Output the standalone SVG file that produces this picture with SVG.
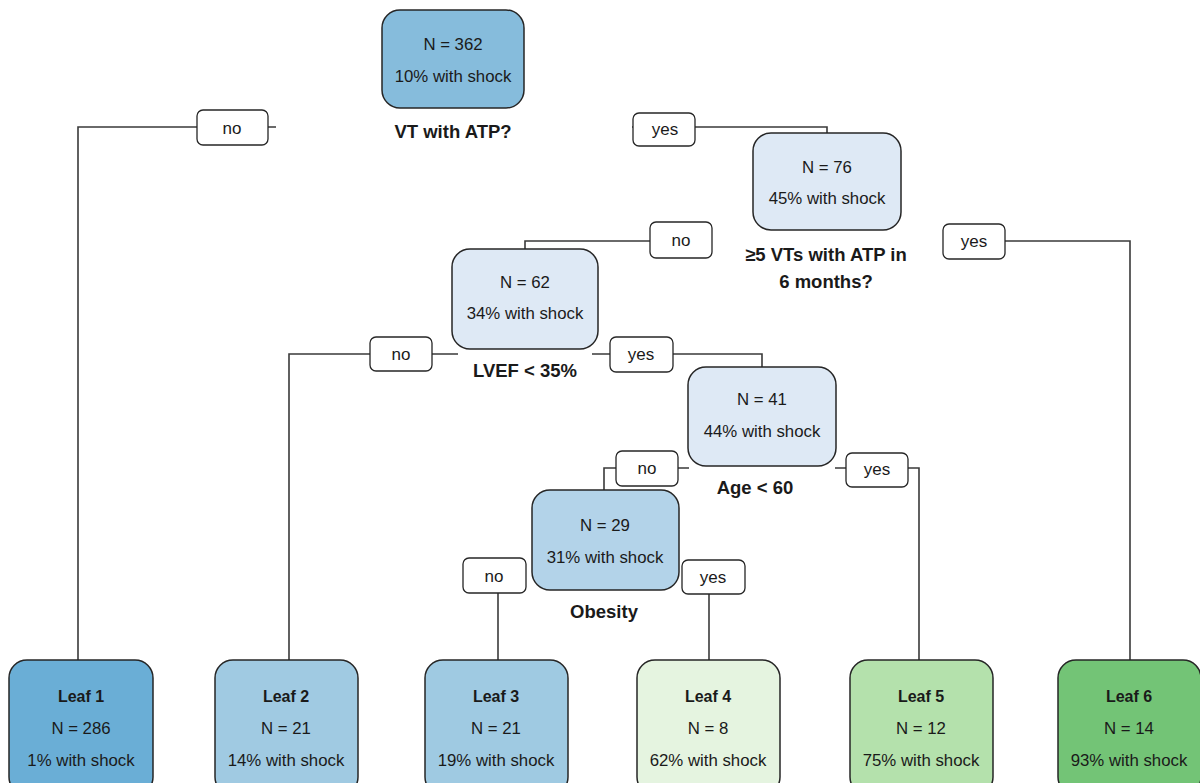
<svg xmlns="http://www.w3.org/2000/svg" width="1200" height="783" viewBox="0 0 1200 783">
<style>
.node{stroke:#262626;stroke-width:1.5}
.lbl{fill:#fff;stroke:#262626;stroke-width:1.3}
.edge{fill:none;stroke:#3a3a3a;stroke-width:1.6}
text{font-family:"Liberation Sans",Arial,sans-serif;fill:#1a1a1a;text-anchor:middle}
.t{font-size:16.8px}
.b{font-size:18.5px;font-weight:bold}
.lf{font-size:16px;font-weight:bold}
.lt{font-size:17px}
</style>
<rect width="1200" height="783" fill="#fff"/>
<g id="connectors">
<path class="edge" d="M276,127 H268 M197,127 H78 V660"/>
<path class="edge" d="M632,127 H633 M695,127 H827 V133"/>
<path class="edge" d="M650,241 H525 V249"/>
<path class="edge" d="M1005,241 H1130 V660"/>
<path class="edge" d="M458,354 H432 M370,354 H289 V660"/>
<path class="edge" d="M592,354 H610 M673,354 H762 V367"/>
<path class="edge" d="M689,468 H678 M616,468 H604 V490"/>
<path class="edge" d="M835,468 H846 M908,468 H919 V660"/>
<path class="edge" d="M498,593 V660"/>
<path class="edge" d="M709,594 V660"/>
</g>
<g id="edge-labels">
<g id="lbl-root-no"><rect class="lbl" x="197" y="110" width="71" height="35" rx="6"/><text class="lt" x="232" y="134">no</text></g>
<g id="lbl-root-yes"><rect class="lbl" x="633" y="113" width="62" height="33" rx="6"/><text class="lt" x="665" y="135">yes</text></g>
<g id="lbl-76-no"><rect class="lbl" x="650" y="222" width="62" height="36" rx="6"/><text class="lt" x="681" y="246">no</text></g>
<g id="lbl-76-yes"><rect class="lbl" x="943" y="224" width="62" height="35" rx="6"/><text class="lt" x="974" y="247">yes</text></g>
<g id="lbl-62-no"><rect class="lbl" x="370" y="337" width="62" height="34" rx="6"/><text class="lt" x="401" y="360">no</text></g>
<g id="lbl-62-yes"><rect class="lbl" x="610" y="337" width="63" height="35" rx="6"/><text class="lt" x="641" y="360">yes</text></g>
<g id="lbl-41-no"><rect class="lbl" x="616" y="451" width="62" height="35" rx="6"/><text class="lt" x="647" y="474">no</text></g>
<g id="lbl-41-yes"><rect class="lbl" x="846" y="453" width="62" height="34" rx="6"/><text class="lt" x="877" y="475">yes</text></g>
<g id="lbl-29-no"><rect class="lbl" x="463" y="558" width="63" height="35" rx="6"/><text class="lt" x="494" y="582">no</text></g>
<g id="lbl-29-yes"><rect class="lbl" x="682" y="560" width="63" height="34" rx="6"/><text class="lt" x="713" y="583">yes</text></g>
</g>
<g id="root">
<rect class="node" x="382" y="10" width="142" height="98" rx="18" fill="#86bcdc"/>
<text class="t" x="453" y="50">N = 362</text>
<text class="t" x="453" y="82">10% with shock</text>
<text class="b" x="453" y="138">VT with ATP?</text>
</g>
<g id="node76">
<rect class="node" x="753" y="133" width="148" height="97" rx="18" fill="#dee9f5"/>
<text class="t" x="827" y="173">N = 76</text>
<text class="t" x="827" y="204">45% with shock</text>
<text class="b" x="826" y="261">≥5 VTs with ATP in</text>
<text class="b" x="826" y="288">6 months?</text>
</g>
<g id="node62">
<rect class="node" x="452" y="249" width="146" height="100" rx="18" fill="#dee9f5"/>
<text class="t" x="525" y="288">N = 62</text>
<text class="t" x="525" y="319">34% with shock</text>
<text class="b" x="525" y="377">LVEF &lt; 35%</text>
</g>
<g id="node41">
<rect class="node" x="688" y="367" width="148" height="99" rx="18" fill="#dee9f5"/>
<text class="t" x="762" y="405">N = 41</text>
<text class="t" x="762" y="437">44% with shock</text>
<text class="b" x="755" y="494">Age &lt; 60</text>
</g>
<g id="node29">
<rect class="node" x="532" y="490" width="147" height="100" rx="18" fill="#b3d3e9"/>
<text class="t" x="605" y="531">N = 29</text>
<text class="t" x="605" y="563">31% with shock</text>
<text class="b" x="604" y="618">Obesity</text>
</g>
<g id="leaf1">
<rect class="node" x="9" y="660" width="144" height="135" rx="18" fill="#6aaed6"/>
<text class="lf" x="81" y="702">Leaf 1</text>
<text class="t" x="81" y="734">N = 286</text>
<text class="t" x="81" y="766">1% with shock</text>
</g>
<g id="leaf2">
<rect class="node" x="215" y="660" width="143" height="135" rx="18" fill="#a0cae2"/>
<text class="lf" x="286" y="702">Leaf 2</text>
<text class="t" x="286" y="734">N = 21</text>
<text class="t" x="286" y="766">14% with shock</text>
</g>
<g id="leaf3">
<rect class="node" x="425" y="660" width="143" height="135" rx="18" fill="#9fcae2"/>
<text class="lf" x="496" y="702">Leaf 3</text>
<text class="t" x="496" y="734">N = 21</text>
<text class="t" x="496" y="766">19% with shock</text>
</g>
<g id="leaf4">
<rect class="node" x="637" y="660" width="143" height="135" rx="18" fill="#e5f4e0"/>
<text class="lf" x="708" y="702">Leaf 4</text>
<text class="t" x="708" y="734">N = 8</text>
<text class="t" x="708" y="766">62% with shock</text>
</g>
<g id="leaf5">
<rect class="node" x="850" y="660" width="143" height="135" rx="18" fill="#b4e1ac"/>
<text class="lf" x="921" y="702">Leaf 5</text>
<text class="t" x="921" y="734">N = 12</text>
<text class="t" x="921" y="766">75% with shock</text>
</g>
<g id="leaf6">
<rect class="node" x="1058" y="660" width="143" height="135" rx="18" fill="#73c476"/>
<text class="lf" x="1129" y="702">Leaf 6</text>
<text class="t" x="1129" y="734">N = 14</text>
<text class="t" x="1129" y="766">93% with shock</text>
</g>
</svg>
